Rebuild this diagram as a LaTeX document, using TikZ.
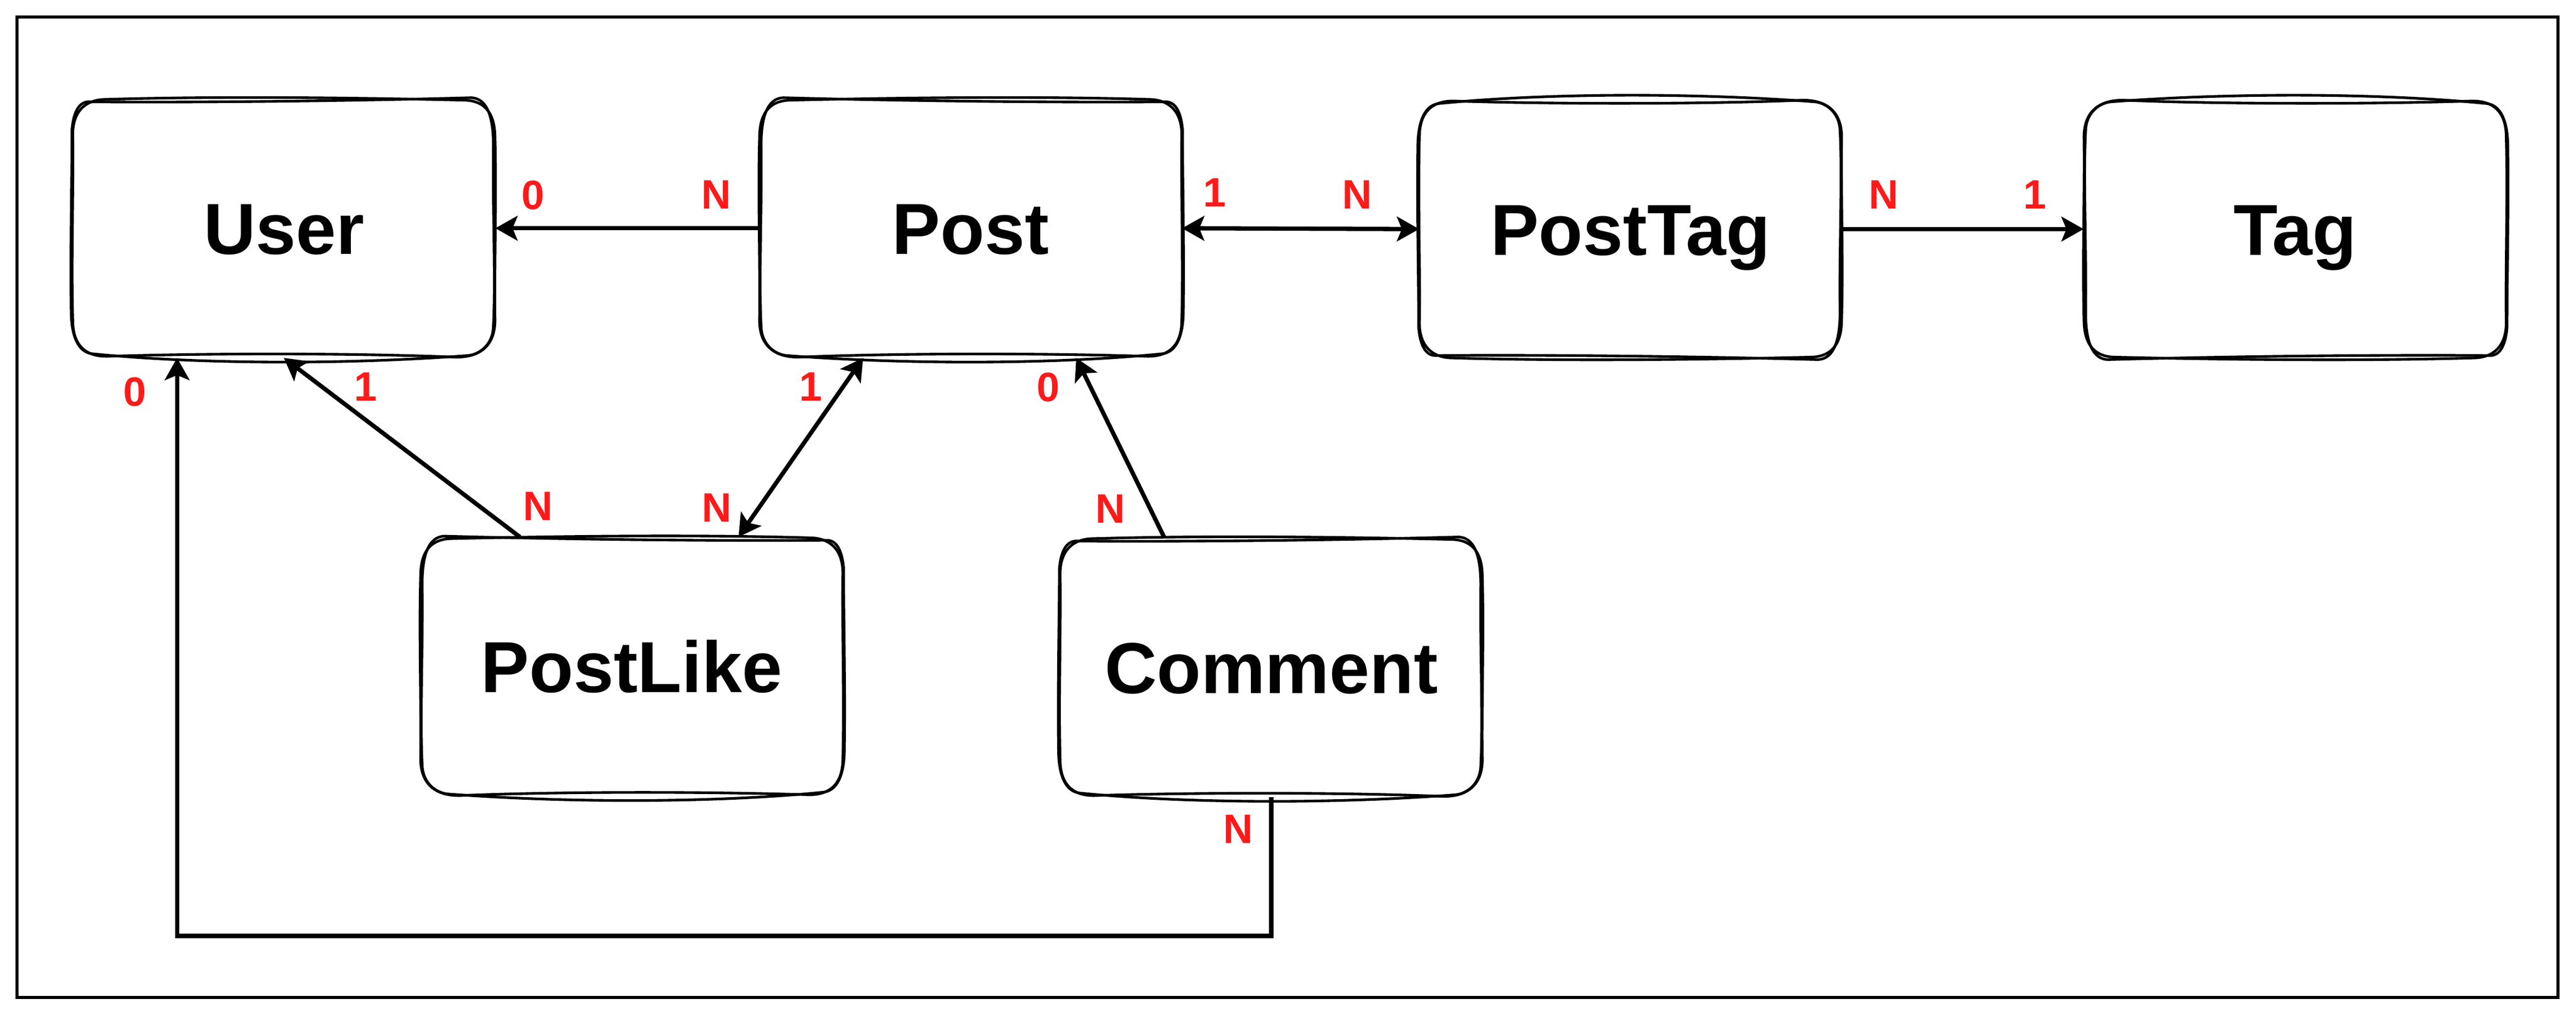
\documentclass[tikz,border=0pt]{standalone}
\usepackage{fontspec}
\setmainfont{Liberation Sans}
\usetikzlibrary{arrows.meta,calc}
\definecolor{lblred}{RGB}{255,26,26}
\tikzset{
  entity/.style={minimum width=257pt,minimum height=157.5pt,inner sep=0pt,
    text height=31.5pt,text depth=0pt,
    font=\fontsize{44pt}{44pt}\selectfont\bfseries},
  card/.style={inner sep=0pt,text=lblred,font=\fontsize{25pt}{25pt}\selectfont\bfseries},
  skline/.style={line width=1.6pt,line cap=round,line join=round},
  conn/.style={line width=2.6pt},
  tip/.style={-{Stealth[length=13.5pt,width=15pt,inset=3pt]}},
  tips/.style={{Stealth[length=13.5pt,width=15pt,inset=3pt]}-{Stealth[length=13.5pt,width=15pt,inset=3pt]}},
}
\newcommand{\skbox}[2]{%
  \begin{scope}[shift={(#1.center)},#2]
    \draw[skline] (-108,-78.5) .. controls (-40,-80.5) and (45,-79.5) .. (109,-78)
      .. controls (124,-78) and (128.5,-68) .. (128.5,-55)
      .. controls (129.5,-20) and (128,25) .. (128.5,56)
      .. controls (128.5,70) and (121,78.5) .. (105,78.5)
      .. controls (45,76) and (-45,76) .. (-108,78)
      .. controls (-122,78) and (-128.5,70) .. (-128.5,56)
      .. controls (-129.5,20) and (-128,-25) .. (-128.5,-57)
      .. controls (-128.5,-70) and (-122,-78.5) .. (-108,-78.5);
    \draw[skline] (-118,-77) .. controls (-50,-76.5) and (40,-77.5) .. (114,-79.5)
      .. controls (126,-79) and (127.5,-62) .. (127.5,-50)
      .. controls (127,-10) and (129,30) .. (127.5,60)
      .. controls (127,72) and (118,77) .. (112,77.5)
      .. controls (40,83) and (-50,83) .. (-116,76.5)
      .. controls (-125,76) and (-129.5,66) .. (-129.5,50)
      .. controls (-130,10) and (-129,-30) .. (-129,-60)
      .. controls (-128,-72) and (-124,-77.5) .. (-118,-77);
  \end{scope}}
\begin{document}
\begin{tikzpicture}[x=1pt,y=-1pt]
\useasboundingbox (0,0) rectangle (1568,618.6);
\draw[line width=2pt] (10.4,10.3) rectangle (1557,607.5);

\node[entity] (user) at (172.8,139) {User};
\node[entity] (post) at (590.8,139) {Post};
\node[entity] (posttag) at (992.5,139.5) {PostTag};
\node[entity] (tag) at (1397,139.5) {Tag};
\node[entity] (postlike) at (384.5,406) {PostLike};
\node[entity] (comment) at (773.8,406.5) {Comment};

\skbox{user}{}
\skbox{post}{xscale=-1}
\skbox{posttag}{yscale=-1}
\skbox{tag}{xscale=-1,yscale=-1}
\skbox{postlike}{xscale=-1}
\skbox{comment}{}

% connectors
\draw[conn,tip] (post.west) -- (user.east);
\draw[conn,tips] (post.east) -- (posttag.west);
\draw[conn,tip] (posttag.east) -- (tag.west);
\draw[conn,tip] ($(postlike.north)+(-68,0)$) -- (user.south);
\draw[conn,tips] ($(post.south)+(-65.4,0)$) -- ($(postlike.north)+(65,0)$);
\draw[conn,tip] ($(comment.north)+(-65,0)$) -- ($(post.south)+(64.3,0)$);
\coordinate (bend) at ($(comment.south)+(0,84.5)$);
\draw[conn,tip] (comment.south) -- (bend) -| ($(user.south)+(-65,0)$);

% cardinality labels
\node[card] (c1) at (324.5,118.9) {0};
\node[card] (c2) at (435.9,118.6) {N};
\node[card] (c3) at (739.3,117.2) {1};
\node[card] (c4) at (826.2,118.5) {N};
\node[card] (c5) at (1146.6,118.5) {N};
\node[card] (c6) at (1238.5,118.5) {1};
\node[card] (c7) at (82,238.6) {0};
\node[card] (c8) at (222.7,235.5) {1};
\node[card] (c9) at (493.4,235.5) {1};
\node[card] (c10) at (638,235.7) {0};
\node[card] (c11) at (327.6,308.3) {N};
\node[card] (c12) at (436.3,309.3) {N};
\node[card] (c13) at (676,310) {N};
\node[card] (c14) at (753.8,505) {N};
\end{tikzpicture}
\end{document}
